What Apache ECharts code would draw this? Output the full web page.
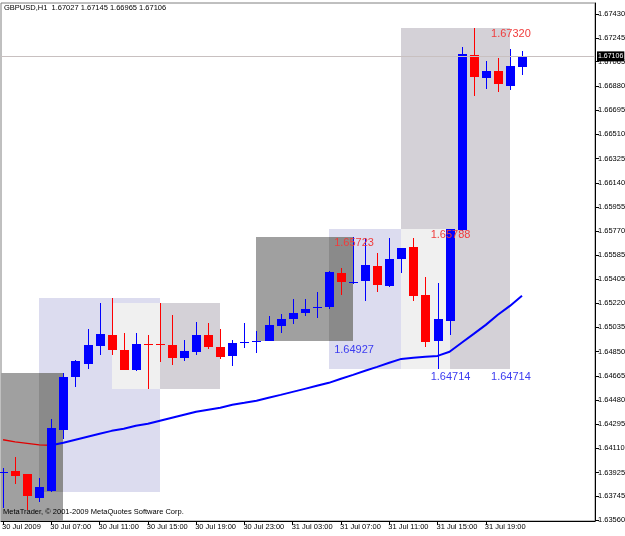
<!DOCTYPE html>
<html><head><meta charset="utf-8">
<script src="https://cdn.jsdelivr.net/npm/echarts@6.0.0/dist/echarts.min.js"></script>
<style>html,body{margin:0;padding:0;background:#fff}#c{width:625px;height:536px}</style>
</head><body><div id="c"></div>
<script>
const symbol = 'GBPUSD,H1';
const copyright = 'MetaTrader, \u00a9 2001-2009 MetaQuotes Software Corp.';
// hourly bars, index 0 = 30 Jul 2009 03:00
const opens  = [1.63930,1.63939,1.63916,1.63733,1.63786,1.64252,1.64657,1.64756,1.64894,1.64978,
                1.64863,1.64710,1.64909,1.64909,1.64901,1.64802,1.64848,1.64978,1.64886,1.64817,
                1.64922,1.64930,1.64932,1.65046,1.65100,1.65146,1.65190,1.65192,1.65451,1.65380,
                1.65390,1.65505,1.65352,1.65558,1.65650,1.65283,1.64932,1.65085,1.65780,1.67120,
                1.66941,1.66995,1.66880,1.67027];
const closes = [1.63932,1.63901,1.63748,1.63817,1.64267,1.64657,1.64779,1.64901,1.64985,1.64863,
                1.64710,1.64909,1.64905,1.64905,1.64802,1.64856,1.64978,1.64886,1.64810,1.64917,
                1.64925,1.64933,1.65054,1.65100,1.65146,1.65176,1.65193,1.65459,1.65383,1.65384,
                1.65513,1.65360,1.65558,1.65642,1.65276,1.64924,1.65100,1.65788,1.67122,1.66949,
                1.66995,1.66895,1.67033,1.67106];
const lows   = [1.63656,1.63840,1.63641,1.63702,1.63779,1.64183,1.64581,1.64718,1.64825,1.64825,
                1.64708,1.64702,1.64565,1.64772,1.64749,1.64779,1.64825,1.64871,1.64794,1.64741,
                1.64879,1.64840,1.64927,1.64993,1.65062,1.65123,1.65108,1.65176,1.65283,1.65367,
                1.65238,1.65306,1.65344,1.65451,1.65238,1.64886,1.64714,1.64978,1.65775,1.66804,
                1.66857,1.66834,1.66849,1.66965];
const highs  = [1.63962,1.64046,1.63918,1.63885,1.64336,1.64685,1.64787,1.65024,1.65222,1.65262,
                1.64993,1.64993,1.64978,1.65222,1.65131,1.64940,1.65077,1.65069,1.65024,1.64940,
                1.65069,1.65008,1.65123,1.65138,1.65253,1.65253,1.65306,1.65467,1.65490,1.65723,
                1.65715,1.65604,1.65720,1.65645,1.65720,1.65421,1.65375,1.65788,1.67178,1.67320,
                1.67071,1.67094,1.67163,1.67145];
const maValues = [1.64176,1.64160,1.64149,1.64137,1.64134,1.64153,1.64176,1.64199,1.64222,1.64244,
                  1.64260,1.64283,1.64298,1.64321,1.64344,1.64367,1.64390,1.64405,1.64420,1.64443,
                  1.64458,1.64474,1.64497,1.64519,1.64542,1.64565,1.64588,1.64611,1.64642,1.64672,
                  1.64703,1.64733,1.64764,1.64794,1.64802,1.64810,1.64817,1.64848,1.64917,1.64985,
                  1.65054,1.65131,1.65199,1.65276];
const maFallEnd = 4;
const xTickBars = [0,4,8,12,16,20,24,28,32,36,40];
const xTickLabels = ['30 Jul 2009','30 Jul 07:00','30 Jul 11:00','30 Jul 15:00','30 Jul 19:00',
                     '30 Jul 23:00','31 Jul 03:00','31 Jul 07:00','31 Jul 11:00','31 Jul 15:00','31 Jul 19:00'];
const yTickValues = [1.63560,1.63745,1.63925,1.64110,1.64295,1.64480,1.64665,1.64850,1.65035,1.65220,
                     1.65405,1.65585,1.65770,1.65955,1.66140,1.66325,1.66510,1.66695,1.66880,1.67065,
                     1.67245,1.67430];
const boxStarts = [-3, 3, 9, 21, 27, 33];
const boxEnds   = [ 5, 13, 18, 29, 37, 42];
const boxLows   = [1.63500, 1.63779, 1.64565, 1.64927, 1.64714, 1.64714];
const boxHighs  = [1.64685, 1.65262, 1.65222, 1.65723, 1.65788, 1.67320];
const boxKinds  = ['asia','europe','us','asia','europe','us'];
const boxLabelled = [false,false,false,true,true,true];

const kindColors = {asia:'#a0a0a0', europe:'#dcdcef', us:'#d4d1d7', 'asia+europe':'#8a8a8a', 'europe+us':'#f0f0f0', 'asia+us':'#c0c0c0'};
const FONT = '"Liberation Sans", Arial, sans-serif';

const n = opens.length;
const last = n - 1;
const candleData = opens.map((o, i) => [i, o, closes[i], lows[i], highs[i]]);

const boxData = [];
for (let i = 0; i < boxStarts.length; i++) boxData.push([boxStarts[i], boxEnds[i], boxLows[i], boxHighs[i], boxKinds[i]]);
const overlapData = [];
for (let i = 0; i < boxStarts.length; i++) for (let j = i + 1; j < boxStarts.length; j++) {
  const x0 = Math.max(boxStarts[i], boxStarts[j]), x1 = Math.min(boxEnds[i], boxEnds[j]);
  const lo = Math.max(boxLows[i], boxLows[j]), hi = Math.min(boxHighs[i], boxHighs[j]);
  if (x1 > x0 && hi > lo) {
    const key = [boxKinds[i], boxKinds[j]].sort().join('+');
    overlapData.push([x0, x1, lo, hi, key]);
  }
}
const boxDataAll = [boxData, overlapData];
const labelData = [];
for (let i = 0; i < boxStarts.length; i++) if (boxLabelled[i]) labelData.push([boxEnds[i], boxLows[i], boxHighs[i]]);

function renderBox(params, api) {
  const x0 = api.value(0), x1 = api.value(1), lo = api.value(2), hi = api.value(3);
  const kind = boxDataAll[params.seriesIndex === 0 ? 0 : 1][params.dataIndex][4];
  const p0 = api.coord([x0, hi]), p1 = api.coord([x1, lo]);
  const cs = params.coordSys;
  const X0 = Math.round(p0[0]), Y0 = Math.round(p0[1]), X1 = Math.round(p1[0]), Y1 = Math.round(p1[1]);
  const shape = echarts.graphic.clipRectByRect(
    {x: X0, y: Y0, width: X1 - X0, height: Y1 - Y0},
    {x: cs.x, y: cs.y, width: cs.width, height: cs.height});
  if (!shape) return;
  return {type: 'rect', shape: shape, style: {fill: kindColors[kind]}};
}

function renderCandle(params, api) {
  const i = api.value(0), o = api.value(1), c = api.value(2), l = api.value(3), h = api.value(4);
  const pO = api.coord([i, o]), pC = api.coord([i, c]), pL = api.coord([i, l]), pH = api.coord([i, h]);
  const xc = Math.round(pO[0]);
  const col = c >= o ? '#0000ff' : '#ff0000';
  const top = Math.round(Math.min(pO[1], pC[1])), bot = Math.round(Math.max(pO[1], pC[1]));
  return {type: 'group', children: [
    {type: 'line', shape: {x1: xc + 0.5, y1: Math.round(pH[1]), x2: xc + 0.5, y2: Math.round(pL[1])}, style: {stroke: col, lineWidth: 1}},
    {type: 'rect', shape: {x: xc - 4, y: top, width: 9, height: Math.max(1, bot - top)}, style: {fill: col}}
  ]};
}

function renderLabels(params, api) {
  const xe = api.value(0), lo = api.value(1), hi = api.value(2);
  const pH = api.coord([xe, hi]), pL = api.coord([xe, lo]);
  return {type: 'group', children: [
    {type: 'text', style: {x: pH[0] + 1, y: pH[1] + 6, text: hi.toFixed(5), fill: '#f03c3c', font: '11px ' + FONT,
      align: 'center', verticalAlign: 'middle', textAlign: 'center', textVerticalAlign: 'middle'}},
    {type: 'text', style: {x: pL[0] + 1, y: pL[1] + 8, text: lo.toFixed(5), fill: '#3c3cf0', font: '11px ' + FONT,
      align: 'center', verticalAlign: 'middle', textAlign: 'center', textVerticalAlign: 'middle'}}
  ]};
}

const chart = echarts.init(document.getElementById('c'), null, {renderer: 'canvas'});
chart.setOption({
  animation: false,
  backgroundColor: '#ffffff',
  title: [
    {text: symbol + '  ' + [opens[last], highs[last], lows[last], closes[last]].map(v => v.toFixed(5)).join(' '),
     left: 4, top: 4, padding: 0, textStyle: {fontSize: 7.5, fontWeight: 'normal', color: '#000', fontFamily: FONT}},
    {text: copyright, left: 3, top: 508, padding: 0, textStyle: {fontSize: 7.5, fontWeight: 'normal', color: '#000', fontFamily: FONT}}
  ],
  grid: {left: 1, top: 3, right: 30, bottom: 15, show: true, borderColor: '#808080', borderWidth: 1,
    backgroundColor: 'transparent', containLabel: false, outerBoundsMode: 'none'},
  xAxis: {
    type: 'value', min: -0.17, max: 49.05,
    axisLine: {show: true, onZero: false, lineStyle: {color: '#000', width: 1}},
    axisTick: {show: true, customValues: xTickBars, length: 4, lineStyle: {color: '#000'}},
    axisLabel: {customValues: xTickBars, formatter: v => xTickLabels[xTickBars.indexOf(Math.round(v))] || '',
      align: 'left', margin: 2, fontSize: 7.5, color: '#000', fontFamily: FONT, padding: [0, 0, 0, -1]},
    splitLine: {show: false}
  },
  yAxis: {
    type: 'value', position: 'right', min: 1.63555, max: 1.67514,
    axisLine: {show: true, onZero: false, lineStyle: {color: '#000', width: 1}},
    axisTick: {show: true, customValues: yTickValues, length: 4, lineStyle: {color: '#000'}},
    axisLabel: {customValues: yTickValues, formatter: v => v.toFixed(5), margin: 3, fontSize: 7.5, color: '#000', fontFamily: FONT},
    splitLine: {show: false}
  },
  series: [
    {type: 'custom', name: 'boxes', renderItem: renderBox, data: boxData.map(d => d.slice(0, 4)), encode: {x: [0, 1], y: [2, 3]}, z: 1, silent: true},
    {type: 'custom', name: 'overlaps', renderItem: renderBox, data: overlapData.map(d => d.slice(0, 4)), encode: {x: [0, 1], y: [2, 3]}, z: 1, silent: true},
    {type: 'line', name: 'maDown', data: maValues.slice(0, maFallEnd + 1).map((v, i) => [i, v]), showSymbol: false,
      lineStyle: {color: '#e00000', width: 1.3}, z: 3, silent: true},
    {type: 'line', name: 'maUp', data: maValues.slice(maFallEnd).map((v, i) => [i + maFallEnd, v]), showSymbol: false,
      lineStyle: {color: '#0000ff', width: 2}, z: 3, silent: true,
      markLine: {symbol: 'none', silent: true, animation: false, precision: 5,
        data: [{yAxis: closes[last]}],
        lineStyle: {color: '#c8c0c0', type: 'solid', width: 1},
        label: {position: 'end', formatter: closes[last].toFixed(5), backgroundColor: '#000', color: '#fff',
          fontSize: 7, fontFamily: FONT, padding: [2, 1, 1, 1], distance: 2}}},
    {type: 'custom', name: 'candles', renderItem: renderCandle, data: candleData, encode: {x: 0, y: [1, 2, 3, 4]}, z: 4, silent: true},
    {type: 'custom', name: 'boxLabels', renderItem: renderLabels, data: labelData, encode: {x: 0, y: [1, 2]}, z: 6, silent: true}
  ]
});
</script></body></html>
